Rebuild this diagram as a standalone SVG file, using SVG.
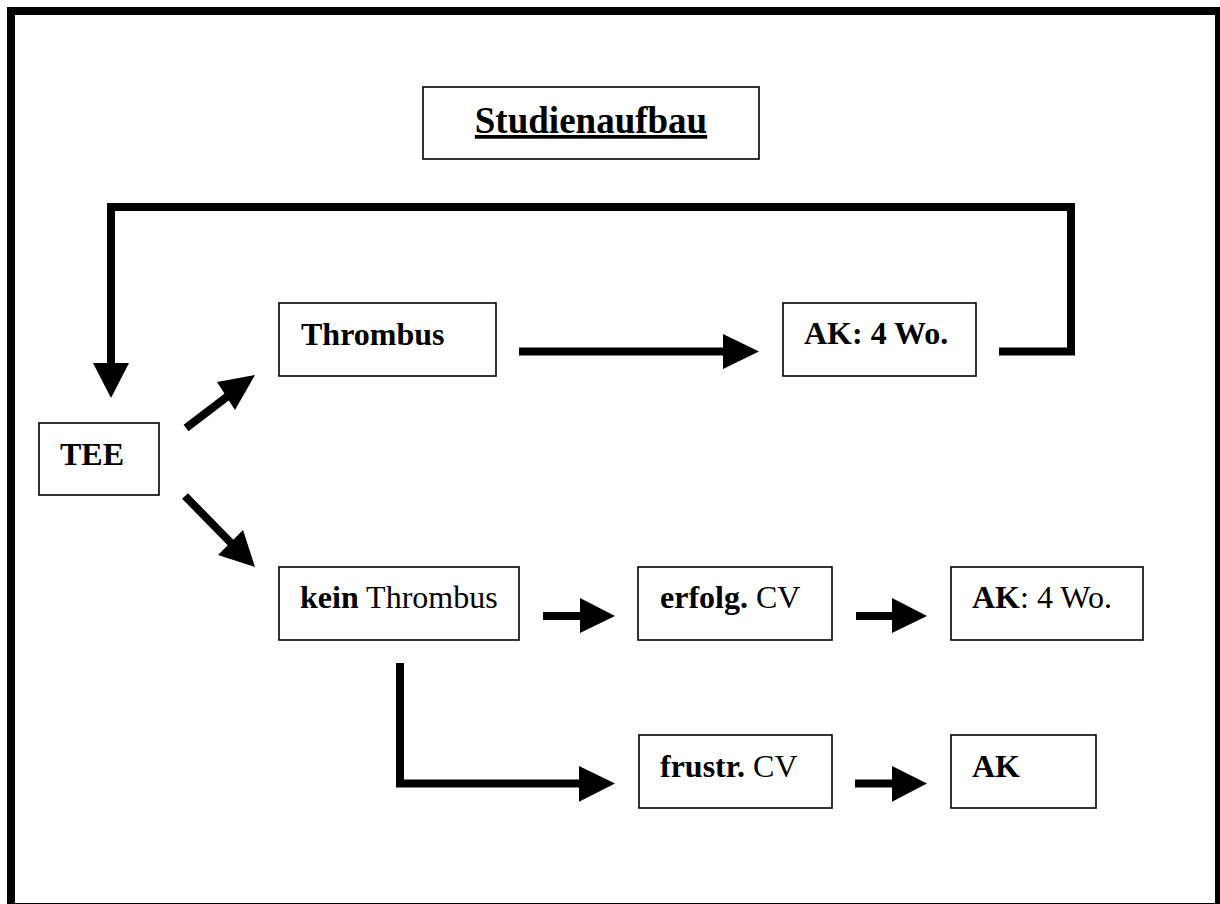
<svg xmlns="http://www.w3.org/2000/svg" width="1220" height="904" viewBox="0 0 1220 904">
<style>
.box{fill:#fff;stroke:#000;stroke-width:1.6}
.t{font-family:"Liberation Serif","Times New Roman",serif;font-size:32px;fill:#000}
.b{font-weight:bold}
.ln{fill:none;stroke:#000;stroke-width:8;stroke-linejoin:miter}
.hd{fill:#000;stroke:none}
</style>
<rect x="0" y="0" width="1220" height="904" fill="#fff"/>
<rect id="frame" x="11" y="11" width="1208" height="896" fill="none" stroke="#000" stroke-width="8"/>
<g id="connectors">
  <polyline class="ln" points="999,351.5 1071,351.5 1071,207 111,207 111,364"/>
  <polygon class="hd" points="93,363 129,363 111,398"/>
  <line class="ln" x1="186" y1="428" x2="228" y2="396"/>
  <polygon class="hd" points="217,382 255,375 235,410"/>
  <line class="ln" x1="185" y1="496" x2="232" y2="544"/>
  <polygon class="hd" points="218,555 243,530 255,567"/>
  <line class="ln" x1="519" y1="351.5" x2="724" y2="351.5"/>
  <polygon class="hd" points="723,334 759,351.5 723,369"/>
  <line class="ln" x1="543" y1="616" x2="581" y2="616"/>
  <polygon class="hd" points="580,598 615,616 580,633"/>
  <line class="ln" x1="856" y1="616" x2="893" y2="616"/>
  <polygon class="hd" points="892,598 927,616 892,633"/>
  <polyline class="ln" points="400,663 400,783.5 580,783.5"/>
  <polygon class="hd" points="579,766 615,783.5 579,801.7"/>
  <line class="ln" x1="855" y1="783.5" x2="893" y2="783.5"/>
  <polygon class="hd" points="892,766 927,783.5 892,801.7"/>
</g>
<g id="title">
  <rect class="box" x="423" y="87" width="336" height="72"/>
  <text class="t b" x="591" y="133" font-size="37" text-anchor="middle" text-decoration="underline" style="font-size:37px">Studienaufbau</text>
</g>
<g id="tee">
  <rect class="box" x="39" y="423" width="120" height="72"/>
  <text class="t b" x="60" y="465">TEE</text>
</g>
<g id="thrombus">
  <rect class="box" x="279" y="303" width="217" height="73"/>
  <text class="t b" x="301" y="345">Thrombus</text>
</g>
<g id="ak4wo-top">
  <rect class="box" x="783" y="303" width="193" height="73"/>
  <text class="t b" x="804" y="344">AK: 4 Wo.</text>
</g>
<g id="kein-thrombus">
  <rect class="box" x="279" y="567" width="240" height="73"/>
  <text class="t" x="300" y="608"><tspan class="b">kein</tspan> Thrombus</text>
</g>
<g id="erfolg-cv">
  <rect class="box" x="638" y="567" width="194" height="73"/>
  <text class="t" x="660" y="608"><tspan class="b">erfolg.</tspan> CV</text>
</g>
<g id="ak4wo-bottom">
  <rect class="box" x="951" y="567" width="192" height="73"/>
  <text class="t" x="972" y="608"><tspan class="b">AK</tspan>: 4 Wo.</text>
</g>
<g id="frustr-cv">
  <rect class="box" x="639" y="735" width="193" height="73"/>
  <text class="t" x="660" y="777"><tspan class="b">frustr.</tspan> CV</text>
</g>
<g id="ak">
  <rect class="box" x="951" y="735" width="145" height="73"/>
  <text class="t b" x="972" y="777">AK</text>
</g>
</svg>
